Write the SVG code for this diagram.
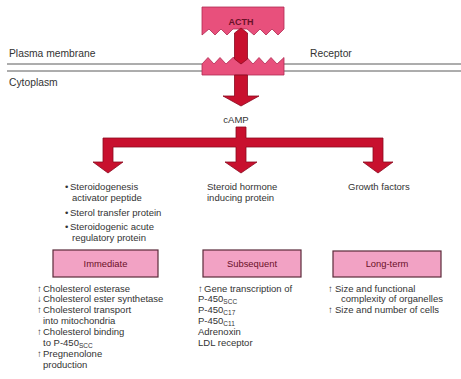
<svg xmlns="http://www.w3.org/2000/svg" width="461" height="379" viewBox="0 0 461 379">
<style>
text{font-family:"Liberation Sans",Arial,sans-serif;fill:#333333;font-size:9.5px}
.hd{font-size:10.3px}
.lbl{font-size:9.4px;fill:#6a1028;text-anchor:middle}
.sub{font-size:6.5px}
.mem{stroke:#5a5a5a;stroke-width:1;fill:none}
.pink{fill:#e8507c;stroke:#b02a50;stroke-width:0.8}
.red{fill:#c8102e;stroke:#8a0a20;stroke-width:0.8}
.box{fill:#f2a2c4;stroke:#5a2a3a;stroke-width:1.2}
</style>
<rect width="461" height="379" fill="#ffffff"/>

<g id="membrane">
<line class="mem" x1="7" y1="64" x2="202" y2="64"/>
<line class="mem" x1="7" y1="71" x2="202" y2="71"/>
<line class="mem" x1="284" y1="64" x2="461" y2="64"/>
<line class="mem" x1="284" y1="71" x2="461" y2="71"/>
<text class="hd" x="9" y="57">Plasma membrane</text>
<text class="hd" x="9" y="86">Cytoplasm</text>
<text class="hd" x="310" y="57">Receptor</text>
</g>

<g id="receptor">
<path class="pink" d="M202,64 L208,57.5 L214,64 L220,57.5 L226,64 L233,57.5 L247,57.5 L253,64 L259,57.5 L265,64 L271,57.5 L277,64 L284,57.5 L284,75 L202,75 Z"/>
</g>

<g id="acth">
<path class="pink" d="M202,7 L284,7 L284,29 L278,35 L272,29 L266,35 L260,29 L254,35 L247,29 L233,29 L227,35 L221,29 L215,35 L209,29 L202,35 Z"/>
<text x="241" y="24.5" style="font-size:9px;font-weight:bold;fill:#6a1028;text-anchor:middle">ACTH</text>
</g>

<g id="connectors">
<path class="red" d="M241,28 L247.5,33 L247.5,59 L241,64 L234.5,59 L234.5,33 Z"/>
<path class="red" d="M234.5,75 L247.5,75 L247.5,96 L259,96 L241,106 L223,96 L234.5,96 Z"/>
<path class="red" d="M236,127 L246,127 L246,138 L383,138 L383,162 L393,162 L378,173 L363,162 L373,162 L373,147 L246,147 L246,162 L257,162 L241,173 L225,162 L236,162 L236,147 L113,147 L113,162 L123,162 L108,173 L93,162 L103,162 L103,138 L236,138 Z"/>
</g>

<g id="camp">
<text x="236" y="122.5" style="text-anchor:middle">cAMP</text>
</g>

<g id="branch-left">
<text x="65" y="189.5">•</text>
<text x="70" y="189.5">Steroidogenesis</text>
<text x="72" y="200.5">activator peptide</text>
<text x="65" y="216">•</text>
<text x="70" y="216">Sterol transfer protein</text>
<text x="65" y="230">•</text>
<text x="70" y="230">Steroidogenic acute</text>
<text x="72" y="241">regulatory protein</text>
</g>

<g id="branch-middle">
<text x="207" y="189.5">Steroid hormone</text>
<text x="207" y="200.5">inducing protein</text>
</g>

<g id="branch-right">
<text x="348" y="189.5">Growth factors</text>
</g>

<g id="immediate">
<rect class="box" x="53" y="250" width="105" height="27"/>
<text class="lbl" x="105.5" y="267">Immediate</text>
<text x="37" y="291.5">↑</text><text x="43" y="291.5">Cholesterol esterase</text>
<text x="37" y="302.4">↓</text><text x="43" y="302.4">Cholesterol ester synthetase</text>
<text x="37" y="313.3">↑</text><text x="43" y="313.3">Cholesterol transport</text>
<text x="43" y="324.2">into mitochondria</text>
<text x="37" y="335.1">↑</text><text x="43" y="335.1">Cholesterol binding</text>
<text x="43" y="346">to P-450<tspan class="sub" dy="2">SCC</tspan></text>
<text x="37" y="356.9">↑</text><text x="43" y="356.9">Pregnenolone</text>
<text x="43" y="367.8">production</text>
</g>

<g id="subsequent">
<rect class="box" x="203" y="250" width="98" height="27"/>
<text class="lbl" x="252" y="267">Subsequent</text>
<text x="198" y="291.5">↑</text><text x="204" y="291.5">Gene transcription of</text>
<text x="198" y="302.4">P-450<tspan class="sub" dy="2">SCC</tspan></text>
<text x="198" y="313.3">P-450<tspan class="sub" dy="2">C17</tspan></text>
<text x="198" y="324.2">P-450<tspan class="sub" dy="2">C11</tspan></text>
<text x="198" y="335.1">Adrenoxin</text>
<text x="198" y="346">LDL receptor</text>
</g>

<g id="longterm">
<rect class="box" x="333" y="251" width="108" height="26"/>
<text class="lbl" x="387" y="267">Long-term</text>
<text x="328" y="291.5">↑</text><text x="335" y="291.5">Size and functional</text>
<text x="341" y="302.4">complexity of organelles</text>
<text x="328" y="313.3">↑</text><text x="335" y="313.3">Size and number of cells</text>
</g>
</svg>
